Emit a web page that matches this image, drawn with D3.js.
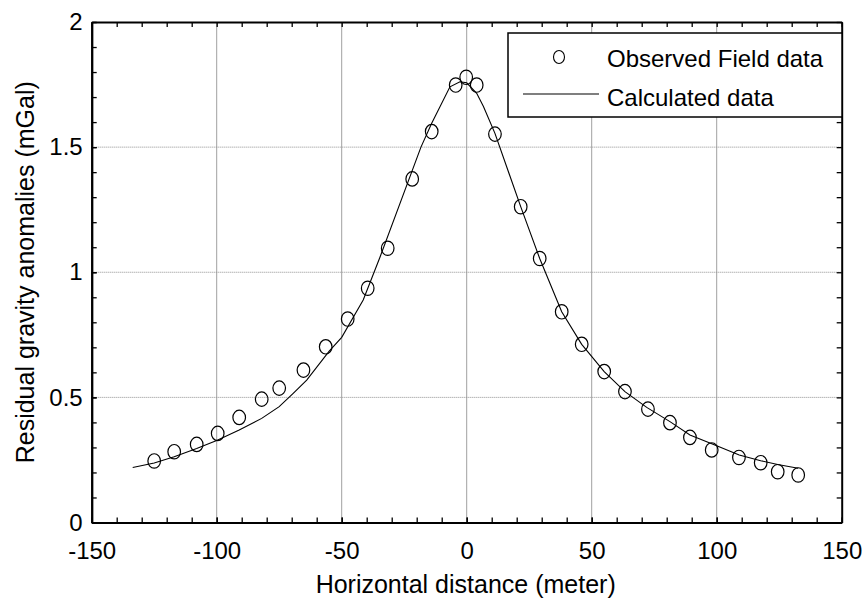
<!DOCTYPE html>
<html>
<head>
<meta charset="utf-8">
<script src="https://cdn.jsdelivr.net/npm/d3@7"></script>
<style>
  body { margin: 0; background: #fff; }
  text { font-family: Arial, "Liberation Sans", sans-serif; fill: #000; }
</style>
</head>
<body>
<script>
// observed field data (circles)
let obsX = [-125, -117, -108, -99.6, -91, -82, -75, -65.3, -56.4, -47.6, -39.6, -31.6, -21.8, -14, -4.4, -0.2, 4,
            11.3, 21.6, 29.2, 38, 46, 55, 63.3, 72.5, 81.3, 89.3, 98, 108.9, 117.6, 124.4, 132.6]
let obsY = [0.246, 0.283, 0.312, 0.356, 0.420, 0.493, 0.537, 0.609, 0.702, 0.813, 0.936, 1.096, 1.373, 1.562, 1.748, 1.779, 1.748,
            1.552, 1.262, 1.055, 0.842, 0.712, 0.603, 0.523, 0.453, 0.399, 0.340, 0.290, 0.260, 0.239, 0.203, 0.190]

// calculated data (line)
let calcX = [-133.6, -125, -117, -108, -100, -91, -82, -75, -69.4, -64, -55, -50, -41.4, -34.7, -18.3, -14, -6.7, -2.7, 0,
             4, 6.7, 11.3, 21.6, 29.2, 38, 46, 55, 63.3, 72, 81.3, 89.3, 100, 109, 117.6, 124.4, 132.6]
let calcY = [0.220, 0.238, 0.263, 0.296, 0.328, 0.370, 0.416, 0.463, 0.516, 0.569, 0.685, 0.740, 0.889, 1.060, 1.500, 1.595, 1.741, 1.761, 1.757,
             1.715, 1.662, 1.555, 1.262, 1.055, 0.842, 0.712, 0.603, 0.523, 0.460, 0.403, 0.350, 0.307, 0.270, 0.247, 0.232, 0.217]

let xTicks = [-150, -100, -50, 0, 50, 100, 150]
let yTicks = [0, 0.5, 1, 1.5, 2]
let xMinor = d3.range(-150, 151, 10)
let yMinor = d3.range(0, 21, 1).map(d => d / 10)

let svgWidth = 866
let svgHeight = 604
let margin = {top: 22, right: 24.3, left: 91.7, bottom: 81.5}
let innerWidth = svgWidth - margin.left - margin.right
let innerHeight = svgHeight - margin.top - margin.bottom

let svg = d3.select('body').append('svg')
            .attr('width', svgWidth)
            .attr('height', svgHeight)

let inner = svg.append('g')
               .attr('transform', 'translate(' + margin.left + ',' + margin.top + ')')

let xScale = d3.scaleLinear().domain([-150, 150]).range([0, innerWidth])
let yScale = d3.scaleLinear().domain([0, 2]).range([innerHeight, 0])

// grid
inner.selectAll('.vgrid')
     .data(xTicks.slice(1, -1))
     .join('line')
     .attr('x1', d => xScale(d)).attr('x2', d => xScale(d))
     .attr('y1', 0).attr('y2', innerHeight)
     .style('stroke', '#a0a0a0').style('stroke-width', 1)

inner.selectAll('.hgrid')
     .data(yTicks.slice(1, -1))
     .join('line')
     .attr('x1', 0).attr('x2', innerWidth)
     .attr('y1', d => yScale(d)).attr('y2', d => yScale(d))
     .style('stroke', '#909090').style('stroke-width', 1)
     .style('stroke-dasharray', '1,1')

// calculated line
let line = d3.line().x(d => xScale(d[0])).y(d => yScale(d[1]))
inner.append('path')
     .datum(calcX.map((x, i) => [x, calcY[i]]))
     .attr('d', line)
     .style('fill', 'none').style('stroke', '#000').style('stroke-width', 1.1)

// observed markers
inner.selectAll('.obs')
     .data(obsX.map((x, i) => [x, obsY[i]]))
     .join('ellipse')
     .attr('cx', d => xScale(d[0]))
     .attr('cy', d => yScale(d[1]))
     .attr('rx', 6.3).attr('ry', 7.2)
     .style('fill', 'none').style('stroke', '#000').style('stroke-width', 1.2)

// axes: labels on bottom / left, minor + major ticks on all four sides
let styleAxis = (g) => {
    g.attr('font-size', 24).attr('font-family', 'Arial, "Liberation Sans", sans-serif')
    g.selectAll('line').style('stroke', '#000').style('stroke-width', 1.3)
    g.select('.domain').style('stroke', '#000').style('stroke-width', 2)
}
// minor tick axes carry no labels at all
let dropText = (g) => g.selectAll('text').remove()

inner.append('g').attr('transform', 'translate(0,' + innerHeight + ')')
     .call(d3.axisBottom(xScale).tickValues(xMinor).tickSizeInner(-5).tickSizeOuter(0)).call(styleAxis).call(dropText)
inner.append('g').attr('transform', 'translate(0,' + innerHeight + ')')
     .call(d3.axisBottom(xScale).tickValues(xTicks).tickSizeInner(-5).tickSizeOuter(0).tickPadding(19).tickFormat(d => d))
     .call(styleAxis)
inner.append('g')
     .call(d3.axisTop(xScale).tickValues(xMinor).tickSizeInner(-5).tickSizeOuter(0)).call(styleAxis).call(dropText)

inner.append('g')
     .call(d3.axisLeft(yScale).tickValues(yMinor).tickSizeInner(-5).tickSizeOuter(0)).call(styleAxis).call(dropText)
inner.append('g')
     .call(d3.axisLeft(yScale).tickValues(yTicks).tickSizeInner(-5).tickSizeOuter(0).tickPadding(9).tickFormat(d => d))
     .call(styleAxis)
inner.append('g').attr('transform', 'translate(' + innerWidth + ',0)')
     .call(d3.axisRight(yScale).tickValues(yMinor).tickSizeInner(-5).tickSizeOuter(0)).call(styleAxis).call(dropText)

// axis titles
svg.append('text')
   .attr('x', margin.left + innerWidth / 2 - 1)
   .attr('y', 593)
   .attr('text-anchor', 'middle')
   .attr('font-size', 25)
   .text('Horizontal distance (meter)')

svg.append('text')
   .attr('transform', 'translate(34,' + (margin.top + innerHeight / 2) + ') rotate(-90)')
   .attr('text-anchor', 'middle')
   .attr('font-size', 25)
   .text('Residual gravity anomalies (mGal)')

// legend
let legend = svg.append('g')
legend.append('rect')
      .attr('x', 508).attr('y', 33)
      .attr('width', 334).attr('height', 84)
      .style('fill', '#fff').style('stroke', '#000').style('stroke-width', 1.5)
legend.append('ellipse')
      .attr('cx', 559).attr('cy', 57).attr('rx', 5.5).attr('ry', 6.5)
      .style('fill', 'none').style('stroke', '#000').style('stroke-width', 1.1)
legend.append('line')
      .attr('x1', 523).attr('x2', 599).attr('y1', 94).attr('y2', 94)
      .style('stroke', '#000').style('stroke-width', 1.1)
legend.append('text')
      .attr('x', 607).attr('y', 67)
      .attr('font-size', 24)
      .text('Observed Field data')
legend.append('text')
      .attr('x', 607).attr('y', 106)
      .attr('font-size', 24)
      .text('Calculated data')
</script>
</body>
</html>
